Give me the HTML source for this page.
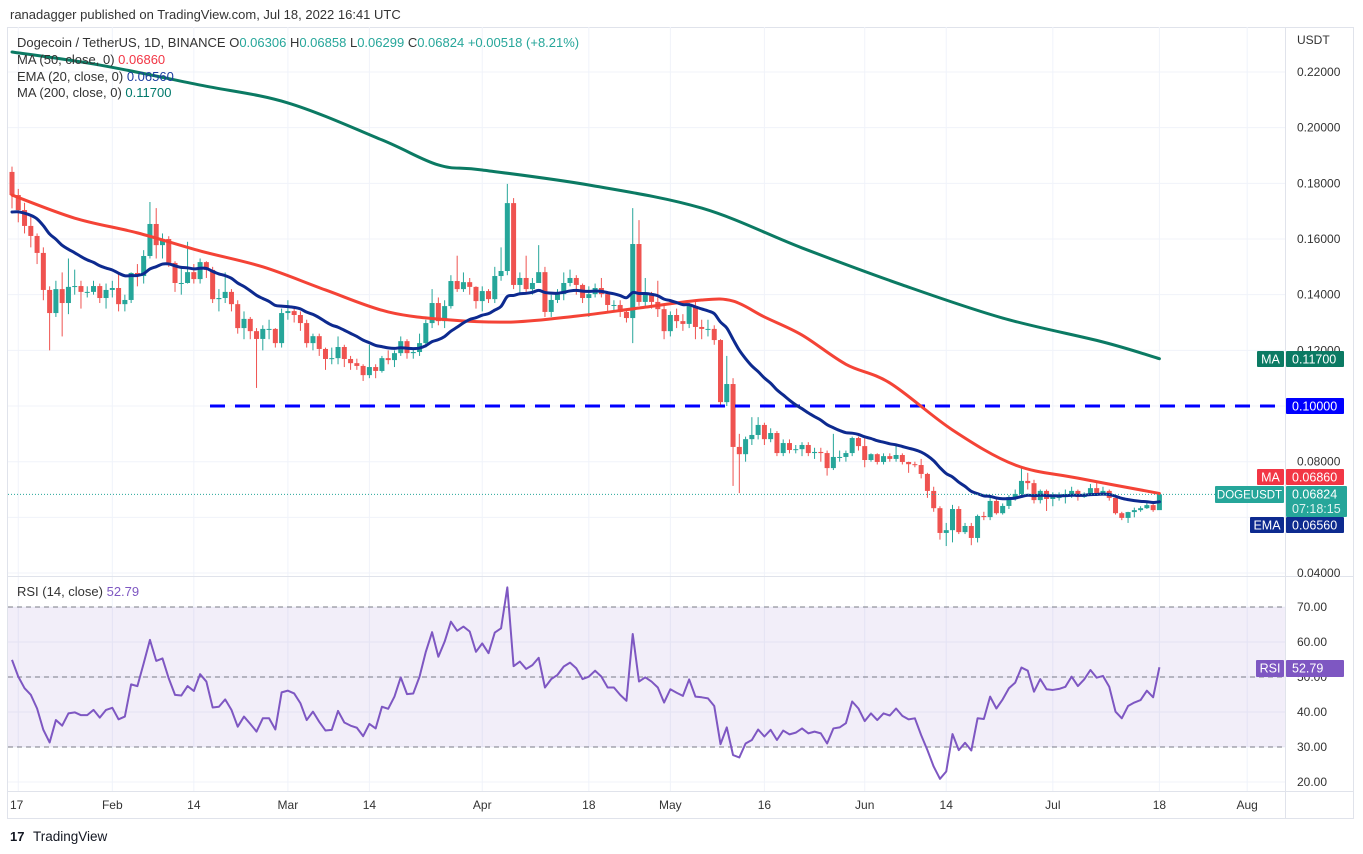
<!DOCTYPE html>
<html><head><meta charset="utf-8"><style>
html,body{margin:0;padding:0;background:#fff;}
svg{display:block;font-family:"Liberation Sans",sans-serif;}
</style></head><body>
<svg id="chart" width="1363" height="854" viewBox="0 0 1363 854" xmlns="http://www.w3.org/2000/svg">
<rect x="0" y="0" width="1363" height="854" fill="#fff"/>
<text x="10" y="19" font-size="13" fill="#333">ranadagger published on TradingView.com, Jul 18, 2022 16:41 UTC</text>
<rect x="7.5" y="27.5" width="1346" height="791" fill="none" stroke="#e0e3eb"/>
<g id="grid"></g>
<rect x="8" y="607" width="1277" height="140" fill="#7e57c2" fill-opacity="0.1"/>
<g id="rsiGuides"></g>
<line x1="1285.5" y1="27" x2="1285.5" y2="818" stroke="#e0e3eb"/>
<line x1="8" y1="576.5" x2="1353" y2="576.5" stroke="#e0e3eb"/>
<line x1="8" y1="791.5" x2="1353" y2="791.5" stroke="#e0e3eb"/>
<g id="candles"></g>
<g id="lines"></g>
<g id="rsiLine"></g>
<g id="axes"></g>
<g font-size="13">
<text x="17" y="47" fill="#333">Dogecoin / TetherUS, 1D, BINANCE  <tspan fill="#333">O</tspan><tspan fill="#26a69a">0.06306</tspan>  <tspan fill="#333">H</tspan><tspan fill="#26a69a">0.06858</tspan>  <tspan fill="#333">L</tspan><tspan fill="#26a69a">0.06299</tspan>  <tspan fill="#333">C</tspan><tspan fill="#26a69a">0.06824</tspan>  <tspan fill="#26a69a">+0.00518 (+8.21%)</tspan></text>
<text x="17" y="64" fill="#333">MA (50, close, 0)  <tspan fill="#f23645">0.06860</tspan></text>
<text x="17" y="81" fill="#333">EMA (20, close, 0)  <tspan fill="#1a3ca0">0.06560</tspan></text>
<text x="17" y="97" fill="#333">MA (200, close, 0)  <tspan fill="#00796b">0.11700</tspan></text>
<text x="17" y="596" fill="#333">RSI (14, close)  <tspan fill="#7e57c2">52.79</tspan></text>
</g>
<text x="1297" y="44" font-size="12" fill="#333">USDT</text>
<g>
<text x="10" y="841" font-size="13" font-weight="bold" fill="#131722">17</text>
<text x="33" y="841" font-size="13.5" fill="#131722">TradingView</text>
</g>
</svg>
<script>
const closes=[175.8,170.4,164.7,161.1,155.0,141.7,133.4,142.0,137.0,142.8,
143.1,141.0,141.0,143.1,138.8,141.7,142.4,136.6,138.1,147.8,
146.7,153.9,165.4,157.8,160.0,151.4,144.2,144.2,148.1,145.6,
151.7,148.9,138.4,138.8,141.0,136.6,128.0,131.3,126.9,124.1,
127.7,127.7,122.6,133.4,134.1,132.7,129.8,122.6,125.1,120.5,
116.9,117.2,121.2,116.9,115.4,114.4,111.1,114.0,112.6,117.2,
116.5,119.0,123.3,119.0,119.4,122.6,129.8,137.0,130.5,135.9,
144.9,142.0,144.5,142.8,137.7,141.3,138.4,146.7,148.5,172.9,
143.5,146.0,142.0,144.2,148.1,133.8,138.1,140.2,144.2,146.0,
143.5,138.8,140.2,142.4,140.2,136.3,136.3,133.8,131.6,158.2,
137.4,140.2,137.4,134.8,126.9,132.7,130.5,129.5,135.9,128.4,
127.7,127.7,123.7,101.4,107.9,85.3,82.7,88.1,89.6,93.2,
88.1,90.3,83.1,86.7,84.2,84.5,86.0,83.1,83.5,83.1,
77.7,81.7,81.7,83.1,88.5,85.6,80.6,82.7,79.9,82.0,
81.0,82.4,79.9,79.1,78.8,75.6,69.5,63.3,54.4,55.4,
63.0,54.7,56.9,52.6,60.5,60.1,65.9,61.5,64.1,67.3,
68.4,73.1,72.3,66.2,69.5,66.6,67.3,67.3,68.4,69.5,
67.3,68.4,70.5,68.7,69.5,67.0,61.5,59.8,61.9,62.6,
63.3,64.4,62.6,68.24];
const firstOpen=184.1;
const highs=[186,178,173,168,162,157,143,145,148,153,
149,145,143,145,144,144,145,148,140,148,
151,156,173.3,171.1,162,161,152,150,159,151,
153,152,150,142,148,142,138,134,132,128,
129,131,128,135,138,135,134,131,126,126,
121,121,125,122,118,117,115,122,115,118,
120,120,125,124,121,126,131,142,139,138,
147,154,148,146,143,143,142,150,157,179.8,
174.7,148,154,146,157.8,150,140,142,148,149,
147,144,143,144,146,141,138,138,135,171.1,
166.8,146,141,145,136,134,135,133,137,138,
131,131,129,124,118,110,90,89,96,96,
94,92,91,88,88,86,87,87,85,85,
84,90,84,84,89,89,89,83,83,83,
83,86,83,80,80,81,76,71,64,58,
64.5,64,58,58,61,62,68,67,65,68,
70,78.4,76,73.5,70,70,69,69,70,71,
70,69,72,73,71,70,67,62,62,63.5,
64,65.5,65.6,68.86];
const lows=[171,166,162,157,151,138,120,132,125,133,
140,135,139,140,137,135,139,134,134,137,
143,144,153,153,153,150,141,140,144,144,
144,146,137,134,137,134,126,124,124,106.5,
120,124,121,121,131,130,127,121,120,118,
113,115,115,114,113,113,109,110,110,112,
115,114,118,117,117,118,121,128,129,128,
135,141,141,140,135,134,137,137,145,147,
142,140,141,140,145,132,132,137,138,143,
140,137,132,139,139,134,134,132,130,122.6,
136,136,135,132,124,125,128,127,128,124,
124,125,122,100,100,71.3,68.7,80,86,88,
86,87,82,82,83,83,82,82,81,80,
75,77,80,80,82,84,78,80,79,79,
80,80,79,76,78,74,67,62,52,49.7,
51,54,54,50,51,59,59,61,61,63,
66,68,70,65,65,62.3,64,66,65,67,
66,67,68,68,68,66,61,59,58,60,
62,63,62,62.99];
const rsiValues=[54.9,50.1,46.8,44.9,41.0,34.9,31.3,37.7,36.1,39.6,
39.9,39.1,39.1,40.6,38.4,40.6,41.2,37.9,38.7,47.9,
47.4,53.9,60.6,54.6,55.3,49.6,44.9,44.7,47.4,46.0,
50.8,48.7,41.3,41.5,43.6,40.6,35.8,38.7,36.6,34.4,
38.2,38.2,35.0,45.6,46.1,45.3,42.5,37.7,40.1,37.2,
34.7,34.9,40.3,37.0,36.1,35.5,33.1,36.6,35.3,41.5,
40.9,44.4,49.9,45.1,45.3,50.1,57.2,62.8,55.8,60.1,
65.8,63.2,64.4,63.0,57.2,59.6,56.8,62.7,63.9,75.6,
53.1,54.4,52.3,53.4,55.5,47.0,49.4,50.6,53.0,54.1,
52.5,49.4,50.1,51.8,50.1,47.0,47.0,44.9,43.2,62.3,
48.7,49.9,48.7,47.0,42.7,46.5,45.5,44.6,49.3,44.4,
44.2,43.9,41.7,30.8,35.6,27.7,27.0,31.0,32.0,35.0,
33.0,34.9,32.0,34.7,33.6,34.1,35.3,33.9,34.4,33.9,
31.0,35.3,35.6,36.8,43.0,41.0,37.4,39.6,37.7,39.6,
39.0,41.0,38.9,37.9,38.2,33.4,29.1,24.4,20.9,23.0,
33.7,29.1,31.2,29.0,38.2,38.0,44.4,41.0,43.6,46.8,
48.4,52.7,51.8,45.8,49.4,46.5,46.3,46.6,47.2,50.1,
47.4,49.3,52.0,49.8,50.3,47.2,40.1,38.2,41.7,42.7,
43.4,46.1,44.2,52.79];
const emaSeed=169.7;
const ma50Days=[0,10,20,30,40,50,60,70,80,90,100,110,115,120,126,133,140,150,160,170,183];
const ma50Vals=[175.8,167.5,162.2,155.7,150,141.7,133.8,130.9,130.2,132.3,135.2,138.1,137.7,132,125.5,115,108.3,91.4,78.8,74.1,68.6];
const ma200Days=[0,14,30,44,59,68,75,92,110,126,142,158,174,183];
const ma200Vals=[227.2,222.5,215.3,208.9,195.6,186.6,184.8,179.4,171.1,156.8,143.5,131.6,123,117];
const priceTicks=[40,60,80,100,120,140,160,180,200,220];
const rsiTicks=[20,30,40,50,60,70];
const dateLabels=["17","Feb","14","Mar","14","Apr","18","May","16","Jun","14","Jul","18","Aug"];
const dateDays=[1,16,29,44,57,75,92,105,120,136,149,166,183,197];
const supportLevel=100;

const NS="http://www.w3.org/2000/svg";
const xOf=d=>12+d*6.27;
const yOf=p=>72+(220-p)/20*55.67;
const yR=v=>607+(70-v)*3.5;
function mk(tag,attrs,parent,txt){const e=document.createElementNS(NS,tag);for(const k in attrs)e.setAttribute(k,attrs[k]);if(txt!==undefined)e.textContent=txt;parent.appendChild(e);return e;}
const grid=document.getElementById('grid'),axes=document.getElementById('axes');
priceTicks.forEach(p=>{const l=mk('line',{x1:8,x2:1285,y1:yOf(p),y2:yOf(p),stroke:'#f0f3fa'},grid);


const t=mk('text',{x:1297,y:yOf(p)+4,'font-size':12,fill:'#333'},axes,(p/1000).toFixed(5));

});
rsiTicks.forEach(v=>{const l=mk('line',{x1:8,x2:1285,y1:yR(v),y2:yR(v),stroke:'#f0f3fa'},grid);


const t=mk('text',{x:1297,y:yR(v)+4,'font-size':12,fill:'#333'},axes,v.toFixed(2));

});
dateDays.forEach((d,i)=>{const l=mk('line',{x1:xOf(d),x2:xOf(d),y1:27,y2:791,stroke:'#f0f3fa'},grid);


const t=mk('text',{x:xOf(d),y:809,'font-size':12,fill:'#333','text-anchor':i==0?'start':'middle'},axes,dateLabels[i]);
if(i==0)t.setAttribute('x',10);

});
const rg=document.getElementById('rsiGuides');
[70,50,30].forEach(v=>{const l=mk('line',{x1:8,x2:1285,y1:yR(v),y2:yR(v),stroke:'#787b86','stroke-dasharray':'5,4','stroke-width':1},rg);

});
const cg=document.getElementById('candles');
closes.forEach((c,i)=>{const o=i==0?firstOpen:closes[i-1];const up=c>=o;const col=up?'#26a69a':'#ef5350';const x=xOf(i);
const g=mk('g',{},cg);


mk('line',{x1:x,x2:x,y1:yOf(highs[i]),y2:yOf(lows[i]),stroke:col,'stroke-width':1},g);
const yt=yOf(Math.max(o,c)),yb=yOf(Math.min(o,c));
mk('rect',{x:x-2.5,y:yt,width:5,height:Math.max(1,yb-yt),fill:col},g);});
const lg=document.getElementById('lines');
const sup=mk('line',{x1:210,x2:1283,y1:yOf(supportLevel),y2:yOf(supportLevel),stroke:'#0000ff','stroke-width':3,'stroke-dasharray':'15,10'},lg);


const ema=[];let e=emaSeed;const a=2/21;closes.forEach((c,i)=>{e=i==0?emaSeed:e+a*(c-e);ema.push(e);});
function smoothPath(pts){let d='M'+pts[0][0]+','+pts[0][1];
for(let i=0;i<pts.length-1;i++){const p0=pts[i-1]||pts[i],p1=pts[i],p2=pts[i+1],p3=pts[i+2]||p2;
const c1=[p1[0]+(p2[0]-p0[0])/6,p1[1]+(p2[1]-p0[1])/6],c2=[p2[0]-(p3[0]-p1[0])/6,p2[1]-(p3[1]-p1[1])/6];
d+=' C'+c1[0]+','+c1[1]+' '+c2[0]+','+c2[1]+' '+p2[0]+','+p2[1];}return d;}
function curve(pts,col,name){const p=mk('path',{d:smoothPath(pts),fill:'none',stroke:col,'stroke-width':3,'stroke-linejoin':'round','stroke-linecap':'round'},lg);

}
curve(ma200Days.map((d,i)=>[xOf(d),yOf(ma200Vals[i])]),'#0b7a63','ma200-line');
curve(ma50Days.map((d,i)=>[xOf(d),yOf(ma50Vals[i])]),'#f44336','ma50-line');
curve(ema.map((v,i)=>[xOf(i),yOf(v)]),'#0d2a8f','ema20-line');
const last=closes[closes.length-1];
const pl=mk('line',{x1:8,x2:1285,y1:yOf(last),y2:yOf(last),stroke:'#26a69a','stroke-dasharray':'1,2'},lg);


const rl=mk('polyline',{points:rsiValues.map((v,i)=>xOf(i)+','+yR(v)).join(' '),fill:'none',stroke:'#7e57c2','stroke-width':2,'stroke-linejoin':'round'},document.getElementById('rsiLine'));


function badge(lbl,val,y,h,col,name,lx,sub){const g=mk('g',{},axes);


if(lbl){mk('rect',{x:lx,y:y,width:1284-lx,height:h,fill:col,rx:1},g);mk('text',{x:(lx+1284)/2,y:y+12.5,'font-size':lbl.length>4?11.5:12.5,fill:'#fff','text-anchor':'middle'},g,lbl);}
mk('rect',{x:1286,y:y,width:sub?61:58,height:sub?31:h,fill:col,rx:1},g);
mk('text',{x:1292,y:y+12.5,'font-size':12.5,fill:'#fff'},g,val);
if(sub)mk('text',{x:1292,y:y+27,'font-size':12.5,fill:'#fff','fill-opacity':0.85},g,sub);}
badge('MA','0.11700',351,16,'#0b7a63','ma200-badge',1257);
badge(null,'0.10000',398,16,'#0000ff','support-badge');
badge('MA','0.06860',469,16,'#f23645','ma50-badge',1257);
badge('DOGEUSDT','0.06824',486,17,'#26a69a','price-badge',1215,'07:18:15');
badge('EMA','0.06560',517,16,'#0d2a8f','ema-badge',1250);
badge('RSI','52.79',660,17,'#7e57c2','rsi-badge',1256);
</script>
</body></html>
